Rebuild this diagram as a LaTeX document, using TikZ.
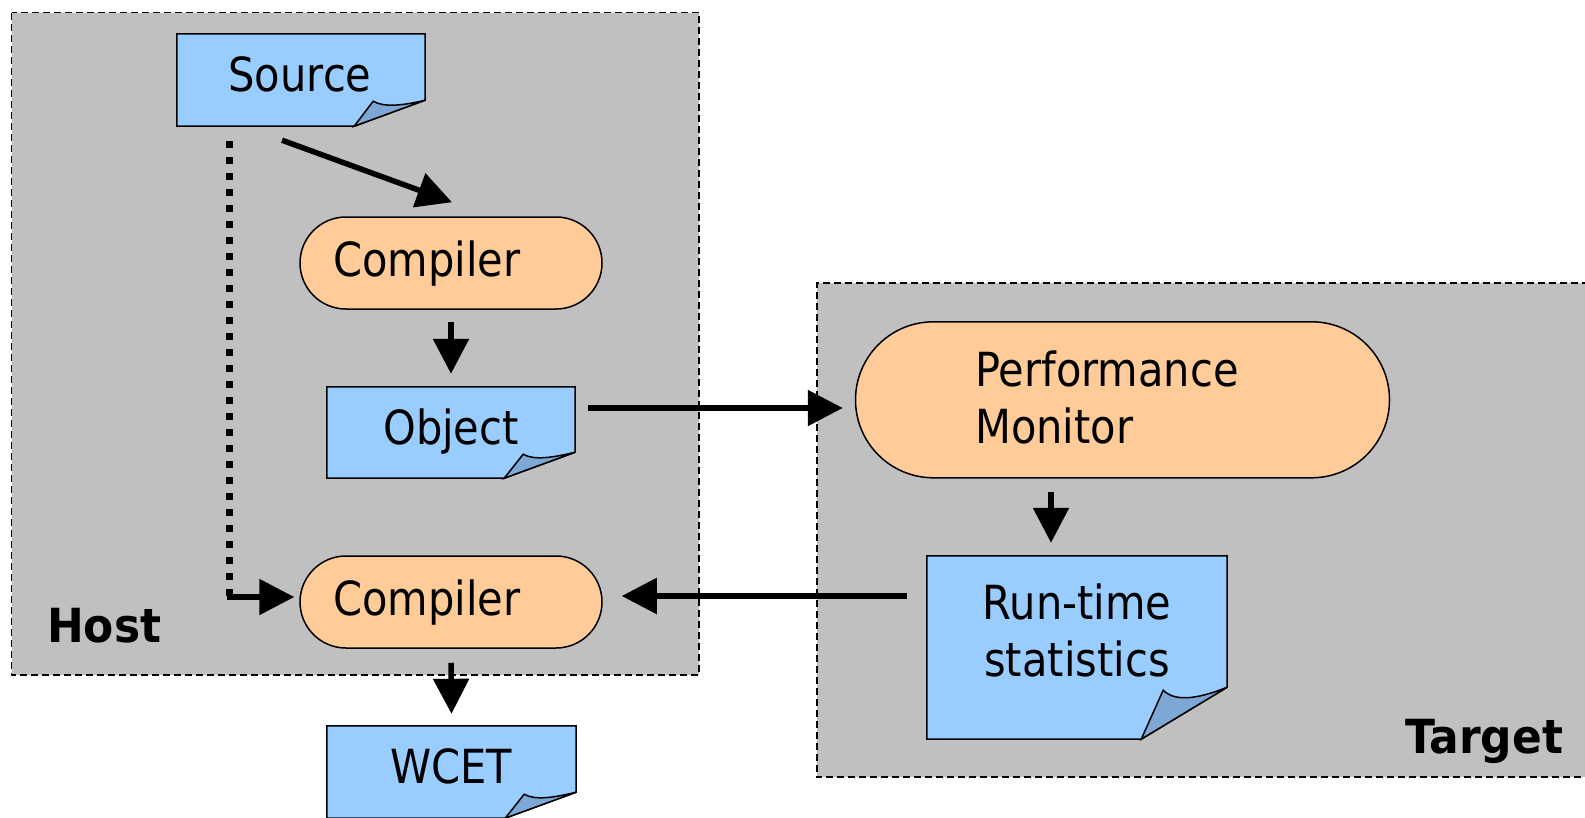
\documentclass[tikz,border=0pt]{standalone}
\usepackage{fontspec}
\setmainfont[FakeStretch=0.885]{DejaVu Sans}
\newfontfamily\labelfont[FakeStretch=0.935]{DejaVu Sans}
\usetikzlibrary{arrows.meta,calc}
\definecolor{bggray}{HTML}{C0C0C0}
\definecolor{docblue}{HTML}{99CCFF}
\definecolor{flapblue}{HTML}{7DA7D5}
\definecolor{peach}{HTML}{FFCC99}
% #1 node name, #2 fold width, #3 fold height, #4/#5 inner flap point relative to south east
\newcommand\docshape[5]{%
  \path[docline, fill=docblue] (#1.north west) -- (#1.north east)
    -- ($(#1.south east)+(0,-#3)$) -- ($(#1.south east)+(-#2,0)$)
    -- (#1.south west) -- cycle;
  \path[docline, fill=flapblue] ($(#1.south east)+(-#2,0)$) -- ($(#1.south east)+(#4,#5)$)
    .. controls +(#2*0.15,#3*0.25) and +(-#2*0.3,#3*0.2) .. ($(#1.south east)+(0,-#3)$) -- cycle;
}
\begin{document}
\begin{tikzpicture}[x=1pt,y=-1pt,
  region/.style={fill=bggray, draw=black, line width=1.8pt, dash pattern=on 7pt off 4pt},
  regionline/.style={draw=black, line width=1.8pt, dash pattern=on 7pt off 4pt},
  process/.style={draw=black, line width=1.5pt, fill=peach, inner sep=0pt, rectangle},
  docnode/.style={inner sep=0pt, rectangle},
  docline/.style={draw=black, line width=1.5pt, line join=miter},
  txt/.style={inner sep=0pt, font=\fontsize{47}{57}\selectfont},
  btxt/.style={inner sep=0pt, font=\fontsize{47}{57}\selectfont\labelfont\bfseries},
  flow/.style={line width=5.5pt, -{Triangle[length=35pt,width=35pt]}},
  dotflow/.style={line width=7pt, dash pattern=on 7pt off 9pt}
]
\clip (0,0) rectangle (1585,817);
% regions
\path[region] (11.5,12.5) rectangle (699.3,675);
\path[fill=bggray] (816.7,283) rectangle (1600,777);
\path[regionline] (1600,283) -- (816.7,283) -- (816.7,777) -- (1600,777);

% nodes
\node[docnode, minimum width=248pt, minimum height=92pt] (source) at (301,80) {};
\docshape{source}{71}{26}{-52}{-25}
\node[process, rounded corners=46pt, minimum width=302pt, minimum height=92pt] (compiler1) at (451,263) {};
\node[docnode, minimum width=248pt, minimum height=91pt] (object) at (451,432.5) {};
\docshape{object}{71}{26}{-52}{-24}
\node[process, rounded corners=46pt, minimum width=302pt, minimum height=92pt] (compiler2) at (451,602) {};
\node[docnode, minimum width=249pt, minimum height=92pt] (wcet) at (451.5,772) {};
\docshape{wcet}{71}{26}{-52}{-24}
\node[process, rounded corners=78pt, minimum width=534pt, minimum height=156pt] (perf) at (1122.5,399.8) {};
\node[docnode, minimum width=300pt, minimum height=183pt] (rts) at (1077,647.5) {};
\docshape{rts}{86}{52}{-64}{-49}

% texts
\node[txt, anchor=base] (tsource) at (300,91) {Source};
\node[txt, anchor=base west] (tcomp1) at (333,276.4) {Compiler};
\node[txt, anchor=base] (tobject) at (451,444) {Object};
\node[txt, anchor=base west] (tcomp2) at (333,615) {Compiler};
\node[txt, anchor=base] (twcet) at (451,783) {WCET};
\node[txt, anchor=base west, align=left] (tperf) at (975,443) {Performance\\Monitor};
\node[txt, anchor=base, align=center] (trts) at (1077,676) {Run-time\\statistics};
\node[btxt, anchor=base west] (host) at (47,642.7) {Host};
\node[btxt, anchor=base west] (target) at (1405,753) {Target};

% connectors
\draw[flow] ([shift={(-19,14)}]source.south) -- ([shift={(1,-14)}]compiler1.north);
\draw[flow] ([shift={(0,12)}]compiler1.south) -- ([shift={(0,-13)}]object.north);
\draw[flow] ([shift={(13,-24.5)}]object.east) -- ([shift={(-12,8.2)}]perf.west);
\draw[flow] ([shift={(-71.5,13)}]perf.south) -- ([shift={(-26,-13)}]rts.north);
\draw[flow] ([shift={(-20,-51.5)}]rts.west) -- ([shift={(19,-6)}]compiler2.east);
\draw[flow] ([shift={(0,14)}]compiler2.south) -- ([shift={(0,-12)}]wcet.north);
\coordinate (dstart) at ([shift={(52.5,15)}]source.south west);
\coordinate (cin) at ([shift={(-5,-5)}]compiler2.west);
\coordinate (bend) at (dstart |- cin);
\draw[dotflow] (dstart) -- (bend);
\draw[flow] ([shift={(-2.5,0)}]bend) -- (cin);
\end{tikzpicture}
\end{document}
